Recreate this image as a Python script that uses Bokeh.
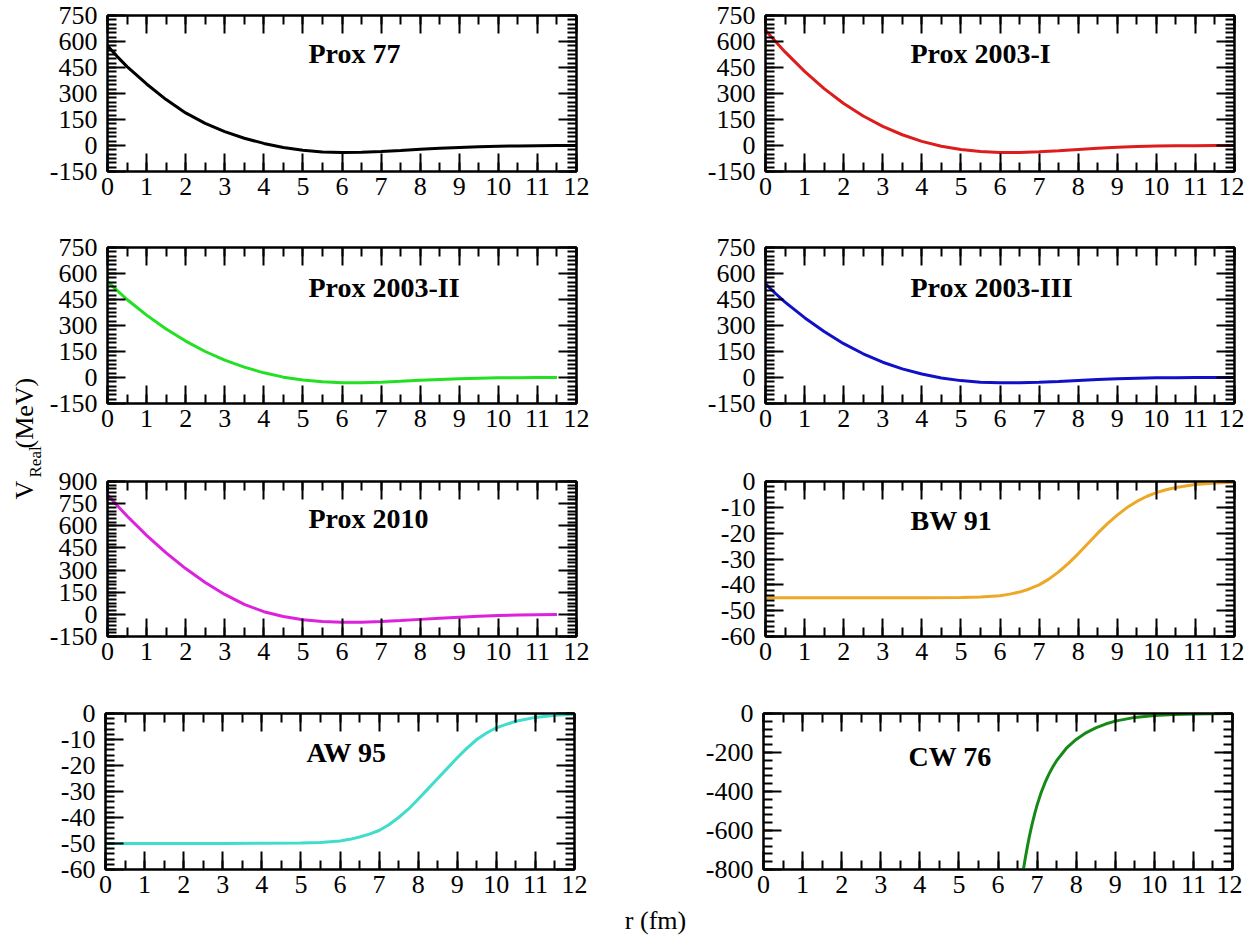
import math
from bokeh.plotting import figure
from bokeh.layouts import row, column
from bokeh.models import FixedTicker, LinearAxis, Range1d, CustomJSTickFormatter
from bokeh.core.properties import value
from bokeh.embed import file_html
from bokeh.resources import INLINE

# ---------------- data ----------------
r_grid = [0.0, 0.25, 0.5, 1.0, 1.5, 2.0, 2.5, 3.0, 3.5, 4.0, 4.5, 5.0, 5.5, 6.0,
          6.5, 7.0, 7.5, 8.0, 8.5, 9.0, 9.5, 10.0, 10.5, 11.0, 11.5, 12.0]
r_short = r_grid[:-1]

prox77_v = [575, 513, 455, 355, 265, 188, 128, 80, 42, 12, -12, -28, -37, -40,
            -39, -35, -29, -22, -16, -11, -7, -4, -2.5, -1.5, -0.7, -0.3]
prox2003I_v = [665, 601, 540, 428, 328, 242, 170, 110, 62, 24, -4, -23, -35, -40,
               -40, -36, -30, -23, -16, -10, -6, -3, -1.5, -0.8, -0.3, 0]
prox2003II_v = [555, 501, 450, 360, 280, 210, 150, 100, 60, 27, 2, -15, -25, -30,
                -30, -27, -22, -16, -11, -7, -4, -2, -1, -0.5, 0]
prox2003III_v = [540, 486, 435, 345, 265, 195, 137, 88, 50, 20, -3, -18, -27, -31,
                 -31, -28, -23, -17, -11, -7, -4, -2, -1, -0.5, 0, 0]
prox2010_v = [810, 737, 666, 535, 416, 310, 216, 135, 68, 18, -15, -36, -48, -53,
              -53, -49, -42, -34, -26, -19, -13, -8, -5, -2.5, -1]

ws_r = [0.0, 1.0, 2.0, 3.0, 4.0, 5.0, 5.5, 6.0, 6.25, 6.5, 6.75, 7.0, 7.25,
        7.5, 7.75, 8.0, 8.25, 8.5, 8.75, 9.0, 9.25, 9.5, 9.75, 10.0, 10.25,
        10.5, 11.0, 11.5, 12.0]
bw91_v = [-45, -45, -45, -45, -45, -44.9, -44.7, -44.2, -43.6, -42.8, -41.6,
          -40.0, -37.8, -35.0, -31.7, -28.0, -24.0, -20.0, -16.3, -13.0, -10.1,
          -7.7, -5.8, -4.3, -3.2, -2.3, -1.2, -0.6, -0.3]
aw95_v = [-50, -50, -50, -50, -49.9, -49.8, -49.6, -49.0, -48.4, -47.5, -46.4,
          -45.0, -42.8, -40.0, -36.8, -33.0, -29.0, -25.0, -21.0, -17.0, -13.3,
          -10.0, -7.5, -5.5, -4.2, -3.0, -1.5, -0.7, -0.3]
cw76_r = [6.65, 6.7, 6.75, 6.8, 6.85, 6.9, 6.95, 7.0, 7.1, 7.2, 7.3, 7.4, 7.5,
          7.75, 8.0, 8.25, 8.5, 8.75, 9.0, 9.5, 10.0, 10.5, 11.0, 11.5, 12.0]
cw76_v = [-800, -740, -685, -633, -587, -545, -506, -470, -408, -356, -312,
          -274, -242, -178, -133, -99, -74, -54, -39, -20, -10, -5, -2.5,
          -1.2, -0.6]

names = ["Prox 77", "Prox 2003-I", "Prox 2003-II", "Prox 2003-III",
         "Prox 2010", "BW 91", "AW 95", "CW 76"]
xs = [r_grid, r_grid, r_short, r_grid, r_short, ws_r, ws_r, cw76_r]
ys = [prox77_v, prox2003I_v, prox2003II_v, prox2003III_v, prox2010_v,
      bw91_v, aw95_v, cw76_v]
colors = ["#000000", "#dd1c1c", "#22e022", "#1010c8", "#dd22dd",
          "#eca826", "#40dccc", "#168a16"]
y_lims = [(-150, 750), (-150, 750), (-150, 750), (-150, 750), (-150, 900),
          (-60, 0), (-60, 0), (-800, 0)]
y_major_step = [150, 150, 150, 150, 150, 10, 10, 200]
y_minor_step = [25, 25, 25, 25, 25, 2, 2, 40]
label_y = [530, 530, 520, 520, 650, -15, -15, -220]
x_ticks = list(range(0, 13))
x_minor = [i * 0.5 for i in range(0, 25)]

FONT = "Liberation Serif"

# ---------------- layout geometry (page pixels) ----------------
LAB_W = 46
FRAME_W = 469
L_BL, L_BR = 59, 25
R_BL, R_BR = 164, 10
row_tb = [(15, 40, 156), (36, 40, 156), (38, 40, 155), (37, 36, 156)]

num_fmt = CustomJSTickFormatter(code="return tick.toString();")
blank_fmt = CustomJSTickFormatter(code="return '';")


def make_panel(i, left_col, tb):
    top, bot, fh = tb
    ymin, ymax = y_lims[i]
    p = figure(frame_width=FRAME_W, frame_height=fh,
               x_range=Range1d(0, 12), y_range=Range1d(ymin, ymax),
               output_backend="svg", toolbar_location=None,
               min_border_left=L_BL if left_col else R_BL,
               min_border_right=L_BR if left_col else R_BR,
               min_border_top=top, min_border_bottom=bot)
    p.xgrid.visible = False
    p.ygrid.visible = False
    p.outline_line_color = "black"
    p.outline_line_width = 2
    p.background_fill_color = "white"
    p.border_fill_color = "white"

    n_maj = int(round((ymax - ymin) / y_major_step[i]))
    yt = [ymin + k * y_major_step[i] for k in range(n_maj + 1)]
    n_min = int(round((ymax - ymin) / y_minor_step[i]))
    ym = [ymin + k * y_minor_step[i] for k in range(n_min + 1)]

    xticker = FixedTicker(ticks=x_ticks, minor_ticks=x_minor)
    yticker = FixedTicker(ticks=yt, minor_ticks=ym)

    def style(ax, labels=True):
        ax.axis_line_width = 2
        ax.major_tick_line_width = 2
        ax.minor_tick_line_width = 2
        ax.major_tick_in = 18
        ax.major_tick_out = 0
        ax.minor_tick_in = 9
        ax.minor_tick_out = 0
        ax.major_label_text_font = FONT
        ax.major_label_text_color = "black"
        if labels:
            ax.formatter = num_fmt
            ax.major_label_text_font_size = "26px"
        else:
            ax.formatter = blank_fmt
            ax.major_label_text_font_size = "1px"
            ax.major_label_standoff = 0

    p.xaxis.ticker = xticker
    p.yaxis.ticker = yticker
    style(p.xaxis[0])
    style(p.yaxis[0])
    p.xaxis[0].major_label_standoff = 6
    p.yaxis[0].major_label_standoff = 10

    ax_top = LinearAxis(ticker=xticker)
    style(ax_top, labels=False)
    p.add_layout(ax_top, "above")
    ax_right = LinearAxis(ticker=yticker)
    style(ax_right, labels=False)
    p.add_layout(ax_right, "right")

    p.line(xs[i], ys[i], line_color=colors[i], line_width=3)

    lx = 5.14 if left_col else 3.71
    p.text(x=[lx], y=[label_y[i]], text=[names[i]],
           text_font=value(FONT), text_font_style="bold",
           text_font_size="28px", text_align="left",
           text_baseline="middle", text_color="black")
    return p


rows = []
order = [(0, 1), (2, 3), (4, 5), (6, 7)]
for k, (a, b) in enumerate(order):
    rows.append(row(make_panel(a, True, row_tb[k]),
                    make_panel(b, False, row_tb[k])))

XL_H = 40
TOTAL_H = sum(t + b + h for t, b, h in row_tb) + XL_H
GRID_W = (L_BL + FRAME_W + L_BR) + (R_BL + FRAME_W + R_BR)

# x-axis label strip
xl = figure(width=GRID_W, height=XL_H, x_range=Range1d(0, GRID_W),
            y_range=Range1d(0, XL_H), output_backend="svg",
            toolbar_location=None, min_border=0)
xl.axis.visible = False
xl.grid.visible = False
xl.outline_line_color = None
xl.text(x=[655 - LAB_W], y=[XL_H - 15], text=["r (fm)"], text_font=value(FONT),
        text_font_size="26px", text_align="center", text_baseline="middle",
        text_color="black")

# y-axis label strip
yl = figure(width=LAB_W, height=TOTAL_H, x_range=Range1d(0, LAB_W),
            y_range=Range1d(0, TOTAL_H), output_backend="svg",
            toolbar_location=None, min_border=0)
yl.axis.visible = False
yl.grid.visible = False
yl.outline_line_color = None
yl.text(x=[24, 35, 24], y=[TOTAL_H - 499, TOTAL_H - 477, TOTAL_H - 448],
        text=["V", "Real", "(MeV)"], angle=math.pi / 2,
        text_font=value(FONT), text_font_size=["26px", "17px", "26px"],
        text_align="left", text_baseline="alphabetic", text_color="black")

layout = row(yl, column(*rows, xl))

open("out.html", "w").write(file_html(layout, INLINE))
